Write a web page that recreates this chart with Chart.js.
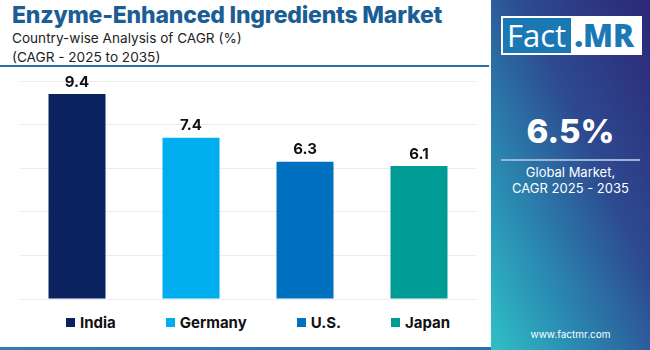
<!DOCTYPE html>
<html>
<head>
<meta charset="utf-8">
<script src="https://cdn.jsdelivr.net/npm/chart.js@4.4.1/dist/chart.umd.min.js"></script>
<style>
  body { margin: 0; width: 650px; height: 350px; overflow: hidden; background: #fff; font-family: "Inter", "Roboto", sans-serif; }
  #wrap { position: relative; width: 650px; height: 350px; }
  #title { position: absolute; left: 12px; top: 1px; font-size: 23px; font-weight: 800; color: #1b5e95; letter-spacing: -0.2px; white-space: nowrap; }
  #sub { position: absolute; left: 12px; top: 29px; font-size: 13.6px; color: #222; line-height: 19px; }
  #topline { position: absolute; left: 0; top: 65px; width: 489px; height: 2px; background: #2a6fa8; }
  #botline { position: absolute; left: 0; top: 347px; width: 491px; height: 3px; background: linear-gradient(to right, #3a78ad, #2f6ea8); }
  #chartBox { position: absolute; left: 0; top: 66px; width: 491px; height: 240px; }
  #legend { position: absolute; left: 66px; top: 313px; display: flex; gap: 50px; font-size: 15px; font-weight: 700; color: #111; }
  #legend span.it { display: flex; align-items: center; }
  #legend i { display: inline-block; width: 9px; height: 9px; margin-right: 5px; }
  #side { position: absolute; left: 491px; top: 0; width: 159px; height: 350px;
          background: linear-gradient(to bottom left, #2d2776 0%, #2d4a90 40%, #2a8fb4 75%, #2fc0c6 100%); }
  #logo { position: absolute; left: 10px; top: 16px; width: 137px; height: 35px; border: 2px solid #fff; background: #fff; display: flex; font-size: 31px; line-height: 35px; }
  #logo .f { background: #1a78b4; color: #fff; padding: 0 5px 0 4px; font-family: "Open Sans", sans-serif; }
  #logo .m { color: #1a78b4; font-weight: 800; padding-left: 3px; font-family: "Open Sans", sans-serif; }
  #big { position: absolute; left: 0; width: 159px; top: 111px; text-align: center; color: #fff; font-size: 33px; font-weight: 800; }
  #rule { position: absolute; left: 10px; top: 159px; width: 139px; height: 2px; background: #9db3d8; }
  #glob { position: absolute; left: 0; width: 159px; top: 164px; text-align: center; color: #fff; font-size: 13px; line-height: 16px; }
  #url { position: absolute; left: 0; width: 159px; top: 328px; text-align: center; color: #fff; font-size: 10px; }
</style>
</head>
<body>
<div id="wrap">
  <div id="title">Enzyme-Enhanced Ingredients Market</div>
  <div id="sub">Country-wise Analysis of CAGR (%)<br>(CAGR - 2025 to 2035)</div>
  <div id="topline"></div>
  <div id="chartBox"><canvas id="c"></canvas></div>
  <div id="legend"></div>
  <div id="botline"></div>
  <div id="side">
    <div id="logo"><span class="f">Fact</span><span class="m">.MR</span></div>
    <div id="big">6.5%</div>
    <div id="rule"></div>
    <div id="glob">Global Market,<br>CAGR 2025 - 2035</div>
    <div id="url">www.factmr.com</div>
  </div>
</div>
<script>
const countries = ["India", "Germany", "U.S.", "Japan"];
const cagr = [9.4, 7.4, 6.3, 6.1];
const barColors = ["#0b2260", "#00aeef", "#0070c0", "#009b94"];
const yTicks = [0, 2, 4, 6, 8, 10];

// legend
const leg = document.getElementById("legend");
countries.forEach((c, i) => {
  const s = document.createElement("span");
  s.className = "it";
  s.innerHTML = '<i style="background:' + barColors[i] + '"></i>' + c;
  leg.appendChild(s);
});

const valueLabels = {
  id: "valueLabels",
  afterDatasetsDraw(chart) {
    const ctx = chart.ctx;
    const meta = chart.getDatasetMeta(0);
    ctx.save();
    ctx.font = "700 15px Inter, Roboto, sans-serif";
    ctx.fillStyle = "#111";
    ctx.textAlign = "center";
    ctx.textBaseline = "middle";
    meta.data.forEach((bar, i) => {
      ctx.fillText(cagr[i].toFixed(1), bar.x, bar.y - 12);
    });
    ctx.restore();
  }
};

new Chart(document.getElementById("c"), {
  type: "bar",
  data: {
    labels: countries,
    datasets: [{
      data: cagr,
      backgroundColor: barColors,
      barPercentage: 0.5,
      categoryPercentage: 1.0
    }]
  },
  options: {
    responsive: true,
    maintainAspectRatio: false,
    animation: false,
    layout: { padding: { top: 15, left: 20, right: 15, bottom: 7 } },
    plugins: { legend: { display: false }, tooltip: { enabled: false } },
    scales: {
      x: { display: false },
      y: {
        min: 0, max: 10,
        afterBuildTicks: axis => { axis.ticks = yTicks.map(v => ({ value: v })); },
        ticks: { display: false },
        border: { display: false },
        grid: { color: "#ececec", drawTicks: false }
      }
    }
  },
  plugins: [valueLabels]
});
</script>
</body>
</html>
